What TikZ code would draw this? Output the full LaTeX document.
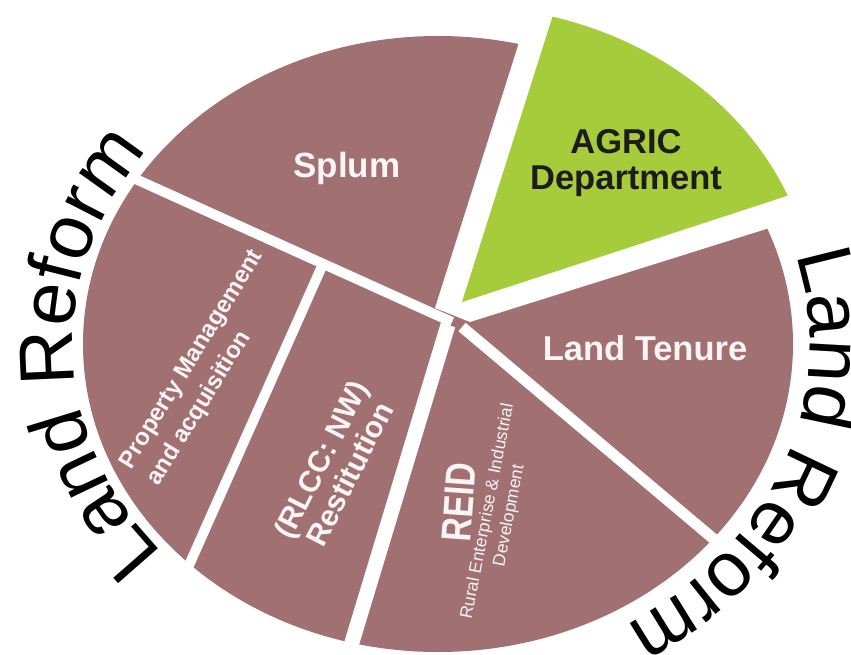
\documentclass[tikz,border=0pt]{standalone}
\usepackage{fontspec}
\usepackage{graphicx}
\setmainfont{Liberation Sans}
\usetikzlibrary{decorations.text}
\definecolor{mauve}{HTML}{A07073}
\definecolor{agrigreen}{HTML}{A6CB3B}
\definecolor{agritext}{HTML}{1C1C1C}
\definecolor{lbltext}{HTML}{FAF4F4}
\newcommand\lrfont{\fontsize{77}{80}\selectfont}
\begin{document}
\begin{tikzpicture}[x=1pt,y=1pt,
  gapline/.style={white, line width=#1},
  lbl/.style={text=lbltext, inner sep=0pt, font=\bfseries},
  arctext/.style={decorate, decoration={text along path, text={|\lrfont|Land Reform}, text align=left}}
]
\useasboundingbox (0,0) rectangle (851,654);
\fill[white] (0,0) rectangle (851,654);
\clip (0,0) rectangle (851,654);
\coordinate (E) at (438,310);
\coordinate (G) at (460,340);
% pie body
\fill[mauve] (E) ellipse [x radius=355pt, y radius=308pt];
% wedge taken out for the exploded slice
\fill[white] (435,346) -- (547,700) -- (900,700) -- (900,467) -- (470,332) -- cycle;
% gaps between slices
\coordinate (a1) at (120,482); \coordinate (a2) at (452,332);
\coordinate (b1) at (323,390); \coordinate (b2) at (178,64);
\coordinate (c1) at (448,329); \coordinate (c2) at (343.6,-16);
\coordinate (d1) at (462,327); \coordinate (d2) at (760,76);
\draw[gapline=10] (a1) -- (a2);
\draw[gapline=10] (b1) -- (b2);
\draw[gapline=15] (c1) -- (c2);
\draw[gapline=11] (d1) -- (d2);
% exploded AGRIC slice
\coordinate (apex) at (462,352);
\path (G) ++(74.9:355pt and 308pt) coordinate (gs);
\fill[agrigreen] (apex) -- (gs) arc[start angle=74.9, end angle=22.6, x radius=355pt, y radius=308pt] -- cycle;
% labels
\node[lbl, font=\bfseries\fontsize{35}{36}\selectfont] (splum) at (347,486) {Splum};
\node[lbl, text=agritext, align=center, font=\bfseries\fontsize{34.5}{36.7}\selectfont] (agric) at (626,491) {AGRIC\\Department};
\node[lbl, font=\bfseries\fontsize{34.5}{36}\selectfont] (tenure) at (645,306) {Land Tenure};
\node[lbl, rotate=58.5, align=left, font=\bfseries\fontsize{24}{32}\selectfont] (prop) at (206,286) {Property Management\\and acquisition};
\node[lbl, rotate=63, align=center, font=\bfseries\fontsize{30}{32}\selectfont] (rlcc) at (335,187.5) {(RLCC: NW)\\Restitution};
\node[lbl, rotate=86] (reid) at (459,152) {\scalebox{0.78}[1]{\fontsize{42}{44}\selectfont REID}};
\node[lbl, rotate=79, align=center, font=\fontsize{17.5}{22}\selectfont] (reidsub) at (498.7,140.3) {Rural Enterprise \& Industrial\\Development};
% curved titles
\path (E) ++(221:365pt and 318pt) coordinate (ls);
\path[arctext] (ls) arc[start angle=221, end angle=110, x radius=365pt, y radius=318pt];
\path (E) ++(16:372pt and 325pt) coordinate (rs);
\path[arctext] (rs) arc[start angle=16, end angle=-90, x radius=372pt, y radius=325pt];
\end{tikzpicture}
\end{document}
